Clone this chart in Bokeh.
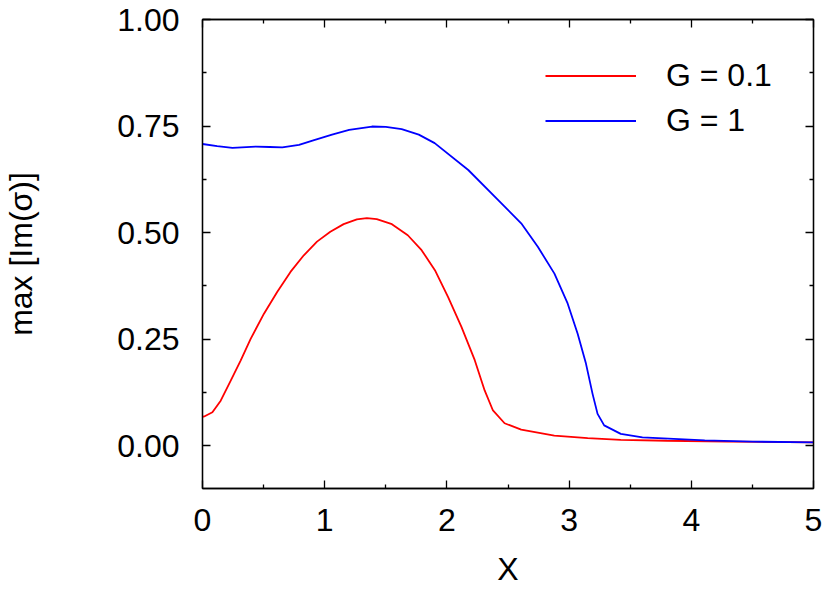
from bokeh.plotting import figure
from bokeh.models import LinearAxis, FixedTicker, Range1d, Legend, LegendItem
from bokeh.embed import file_html
from bokeh.resources import INLINE

# ---- data ----
red_x = [0, 0.014, 0.081, 0.149, 0.231, 0.312, 0.394, 0.503, 0.611, 0.720, 0.829, 0.937,
         1.046, 1.155, 1.263, 1.345, 1.426, 1.55, 1.68, 1.793, 1.902, 2.010, 2.119, 2.228,
         2.309, 2.377, 2.472, 2.608, 2.879, 3.152, 3.423, 3.8, 4.3, 5.0]
red_y = [0.068, 0.069, 0.079, 0.106, 0.153, 0.200, 0.251, 0.310, 0.361, 0.408, 0.447, 0.479,
         0.502, 0.520, 0.531, 0.534, 0.532, 0.520, 0.494, 0.459, 0.412, 0.349, 0.279, 0.201,
         0.130, 0.083, 0.053, 0.038, 0.024, 0.018, 0.014, 0.012, 0.010, 0.008]

blue_x = [0, 0.12, 0.245, 0.435, 0.55, 0.653, 0.79, 0.9, 1.06, 1.2, 1.387, 1.5, 1.63, 1.77,
          1.9, 2.175, 2.418, 2.608, 2.744, 2.880, 2.988, 3.070, 3.138, 3.192, 3.233, 3.287,
          3.423, 3.6, 4.11, 4.5, 5.0]
blue_y = [0.708, 0.703, 0.699, 0.702, 0.701, 0.700, 0.706, 0.716, 0.730, 0.741, 0.749, 0.748,
          0.743, 0.730, 0.710, 0.647, 0.577, 0.522, 0.467, 0.404, 0.334, 0.263, 0.193, 0.122,
          0.075, 0.048, 0.028, 0.020, 0.0127, 0.010, 0.008]

series_labels = ["G = 0.1", "G = 1"]
x_ticks = [0, 1, 2, 3, 4, 5]
x_minor = [0.5, 1.5, 2.5, 3.5, 4.5]
y_ticks = [0.0, 0.25, 0.5, 0.75, 1.0]
y_minor = [0.125, 0.375, 0.625, 0.875]
y_tick_labels = {0.0: "0.00", 0.25: "0.25", 0.5: "0.50", 0.75: "0.75", 1.0: "1.00"}
x_tick_labels = {0: "0", 1: "1", 2: "2", 3: "3", 4: "4", 5: "5"}

FONT = "Liberation Sans"
FS = "32px"

p = figure(width=830, height=589, output_backend="svg", toolbar_location=None,
           x_range=Range1d(0, 5), y_range=Range1d(-0.1, 1.0),
           min_border_left=200, min_border_right=17, min_border_top=19, min_border_bottom=101)
p.xgrid.visible = False
p.ygrid.visible = False
p.outline_line_color = "black"
p.outline_line_width = 1.3

r1 = p.line(red_x, red_y, line_color="#ff0000", line_width=1.8)
r2 = p.line(blue_x, blue_y, line_color="#0000ff", line_width=1.8)

def style(ax, ticks, minor, labels, show_labels):
    ax.ticker = FixedTicker(ticks=ticks, minor_ticks=minor)
    ax.major_tick_in = 8
    ax.major_tick_out = 0
    ax.minor_tick_in = 4
    ax.minor_tick_out = 0
    ax.axis_line_color = "black"
    ax.axis_line_width = 1.3
    ax.major_tick_line_width = 1.3
    ax.minor_tick_line_width = 1.3
    ax.major_label_overrides = labels
    ax.major_label_text_font = FONT
    ax.major_label_text_font_size = FS
    ax.major_label_text_color = "black"
    if not show_labels:
        ax.major_label_text_alpha = 0
        ax.major_label_text_font_size = "0px"
        ax.major_label_standoff = 0

xa = p.xaxis[0]
style(xa, x_ticks, x_minor, x_tick_labels, True)
xa.major_label_standoff = 20
xa.axis_label = "X"
xa.axis_label_text_font = FONT
xa.axis_label_text_font_size = FS
xa.axis_label_text_font_style = "normal"
xa.axis_label_text_color = "black"
xa.axis_label_standoff = 17

ya = p.yaxis[0]
style(ya, y_ticks, y_minor, y_tick_labels, True)
ya.major_label_standoff = 23
ya.axis_label = "max [Im(σ)]"
ya.axis_label_text_font = FONT
ya.axis_label_text_font_size = FS
ya.axis_label_text_font_style = "normal"
ya.axis_label_text_color = "black"
ya.axis_label_standoff = 75

top = LinearAxis()
style(top, x_ticks, x_minor, x_tick_labels, False)
p.add_layout(top, "above")
right = LinearAxis()
style(right, y_ticks, y_minor, y_tick_labels, False)
p.add_layout(right, "right")

legend = Legend(items=[LegendItem(label=series_labels[0], renderers=[r1]),
                       LegendItem(label=series_labels[1], renderers=[r2])],
                location=(343, 345), padding=0, margin=0, spacing=0,
                glyph_width=91, glyph_height=45, label_height=45, label_standoff=30,
                label_text_font=FONT, label_text_font_size=FS, label_text_color="black",
                border_line_color=None, background_fill_alpha=0)
p.add_layout(legend, "center")

open("out.html", "w").write(file_html(p, INLINE))
